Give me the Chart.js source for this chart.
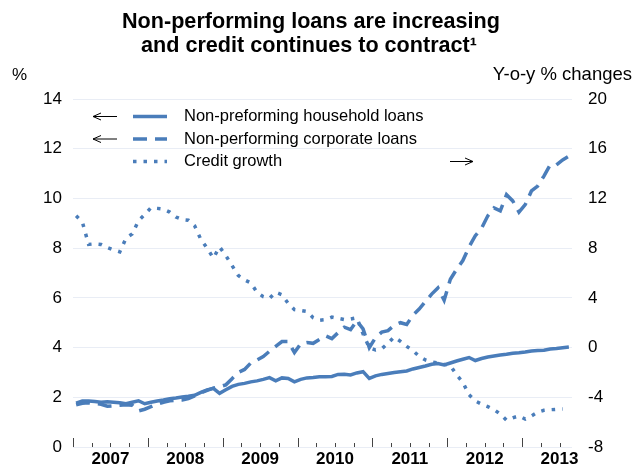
<!DOCTYPE html>
<html>
<head>
<meta charset="utf-8">
<script src="https://cdn.jsdelivr.net/npm/chart.js@4.4.1/dist/chart.umd.min.js"></script>
<style>
  html, body { margin: 0; padding: 0; background: #ffffff; }
  canvas { display: block; }
</style>
</head>
<body>
<canvas id="chart" width="640" height="469"></canvas>
<script>
// Monthly observations, January 2007 to August 2013
const firstYear = 2007;
const years = ['2007', '2008', '2009', '2010', '2011', '2012', '2013'];

// Non-performing household loans, % of loans (left axis)
const household = [
  1.76, 1.85, 1.85, 1.83, 1.80, 1.82, 1.80, 1.78, 1.74, 1.80,
  1.86, 1.74, 1.80, 1.85, 1.89, 1.94, 1.97, 2.01, 2.04, 2.08,
  2.20, 2.30, 2.36, 2.16, 2.30, 2.44, 2.52, 2.56, 2.62, 2.66,
  2.72, 2.79, 2.66, 2.78, 2.76, 2.62, 2.72, 2.78, 2.80, 2.83,
  2.83, 2.84, 2.92, 2.93, 2.90, 2.98, 3.03, 2.76, 2.86, 2.92,
  2.96, 3.00, 3.03, 3.06, 3.14, 3.20, 3.26, 3.33, 3.36, 3.30,
  3.38, 3.46, 3.53, 3.60, 3.48, 3.56, 3.62, 3.66, 3.70, 3.73,
  3.77, 3.79, 3.82, 3.86, 3.88, 3.89, 3.94, 3.96, 3.99, 4.02
];

// Non-performing corporate loans, % of loans (left axis)
const corporate = [
  1.70, 1.76, 1.78, 1.75, 1.72, 1.64, 1.66, 1.68, 1.70, 1.68,
  1.45, 1.52, 1.62, 1.72, 1.80, 1.86, 1.88, 1.89, 1.95, 2.06,
  2.18, 2.28, 2.37, 2.42, 2.50, 2.75, 3.00, 3.12, 3.38, 3.50,
  3.64, 3.85, 4.05, 4.24, 4.24, 3.80, 4.15, 4.20, 4.17, 4.32,
  4.47, 4.36, 4.60, 4.82, 4.72, 5.08, 4.75, 4.00, 4.40, 4.62,
  4.68, 4.90, 5.00, 4.93, 5.30, 5.55, 5.85, 6.15, 6.40, 5.90,
  6.75, 7.15, 7.50, 8.05, 8.50, 8.80, 9.30, 9.62, 9.50, 10.15,
  9.90, 9.45, 9.75, 10.30, 10.50, 10.90, 11.35, 11.35, 11.55, 11.70
];

// Credit growth, year-on-year % change (right axis), January 2007 to July 2013
const creditGrowth = [
  10.6, 10.1, 8.3, 8.35, 8.3, 8.05, 7.85, 7.7, 8.8, 9.15,
  10.2, 10.7, 11.25, 11.2, 11.14, 10.9, 10.5, 10.3, 10.25, 9.8,
  8.7, 8.0, 7.2, 8.1, 7.4, 6.6, 5.8, 5.45, 5.2, 4.45,
  4.1, 3.95, 4.45, 4.25, 3.55, 3.05, 2.98, 2.9, 2.4, 2.2,
  2.25, 2.45, 2.35, 2.25, 2.3, 2.4, 1.1, 0.0, -0.2, -0.1,
  0.35, 0.85, 0.5, 0.1, -0.25, -0.7, -1.0, -1.15, -1.25, -1.35,
  -1.45, -2.2, -2.8, -3.8, -4.3, -4.55, -4.75, -5.0, -5.35, -5.85,
  -5.65, -5.5, -5.75, -5.5, -5.2, -5.05, -5.0, -4.97, -4.94
];

const leftAxis = { min: 0, max: 14, step: 2 };
const rightAxis = { min: -8, max: 20, step: 4 };
const monthsOnAxis = 80;

const blue = '#4a7dba';
const gridColour = '#e9edf5';
const fontFamily = '"Liberation Sans", Arial, sans-serif';

// Each monthly value sits in the middle of its month on a continuous year axis
const toPoints = values => values.map((v, i) => ({ x: firstYear + (i + 0.5) / 12, y: v }));

const legendRows = [
  { text: 'Non-preforming household loans', dash: [], arrow: 'left' },
  { text: 'Non-performing corporate loans', dash: [14, 8], arrow: 'left' },
  { text: 'Credit growth', dash: [3.5, 7], arrow: null }
];

function drawArrow(ctx, x1, x2, y, pointsLeft) {
  const tip = pointsLeft ? x1 : x2;
  const back = pointsLeft ? 8 : -8;
  ctx.beginPath();
  ctx.moveTo(x1, y);
  ctx.lineTo(x2, y);
  ctx.moveTo(tip + back, y - 3.5);
  ctx.lineTo(tip, y);
  ctx.lineTo(tip + back, y + 3.5);
  ctx.stroke();
}

// Keep the vertical axes' label overhang from shrinking the plot height
function fixVerticalAxis(width) {
  return scale => {
    scale.width = width;
    scale.paddingTop = 10;
    scale.paddingBottom = 10;
  };
}

// Titles, unit labels, legend with axis arrows, and inward quarter ticks
const decorations = {
  id: 'decorations',
  afterDraw(chart) {
    const ctx = chart.ctx;
    const area = chart.chartArea;
    const xScale = chart.scales.x;
    ctx.save();

    // quarter tick marks pointing up into the plot, longer at each new year
    ctx.strokeStyle = '#444444';
    ctx.lineWidth = 1;
    xScale.ticks.forEach(t => {
      const px = Math.round(xScale.getPixelForValue(t.value)) + 0.5;
      const isYear = Math.abs((t.value - firstYear) % 1) < 1e-6;
      ctx.beginPath();
      ctx.moveTo(px, area.bottom);
      ctx.lineTo(px, area.bottom - (isYear ? 9 : 4));
      ctx.stroke();
    });

    // title
    ctx.fillStyle = '#000000';
    ctx.textAlign = 'center';
    ctx.textBaseline = 'alphabetic';
    ctx.font = 'bold 21.6px ' + fontFamily;
    ctx.fillText('Non-performing loans are increasing', 311, 28);
    ctx.fillText('and credit continues to contract\u00b9', 309, 52);

    // axis units
    ctx.textBaseline = 'middle';
    ctx.textAlign = 'left';
    ctx.font = '17px ' + fontFamily;
    ctx.fillText('%', 12, 75);
    ctx.textAlign = 'right';
    ctx.font = '18.5px ' + fontFamily;
    ctx.fillText('Y-o-y % changes', 632, 75);

    // legend
    const rowY = [116.5, 139, 161.5];
    ctx.font = '16.5px ' + fontFamily;
    ctx.textAlign = 'left';
    legendRows.forEach((row, i) => {
      const y = rowY[i];
      if (row.arrow === 'left') {
        ctx.strokeStyle = '#000000';
        ctx.lineWidth = 1;
        ctx.setLineDash([]);
        drawArrow(ctx, 93, 117, y, true);
      }
      ctx.strokeStyle = blue;
      ctx.lineWidth = 3.5;
      ctx.lineCap = 'butt';
      ctx.setLineDash(row.dash);
      ctx.beginPath();
      ctx.moveTo(133, y);
      ctx.lineTo(167, y);
      ctx.stroke();
      ctx.setLineDash([]);
      ctx.fillStyle = '#000000';
      ctx.fillText(row.text, 184, y);
    });
    // credit growth is read on the right-hand axis
    ctx.strokeStyle = '#000000';
    ctx.lineWidth = 1;
    drawArrow(ctx, 450, 473, 161.5, false);

    ctx.restore();
  }
};

const lineStyle = {
  borderColor: blue,
  borderWidth: 3.5,
  pointRadius: 0,
  pointHoverRadius: 0,
  tension: 0,
  fill: false,
  borderCapStyle: 'butt',
  borderJoinStyle: 'miter'
};

new Chart(document.getElementById('chart'), {
  type: 'line',
  data: {
    datasets: [
      Object.assign({ label: 'Non-preforming household loans', data: toPoints(household), yAxisID: 'y' }, lineStyle),
      Object.assign({ label: 'Non-performing corporate loans', data: toPoints(corporate), yAxisID: 'y', borderDash: [14, 8] }, lineStyle),
      Object.assign({ label: 'Credit growth', data: toPoints(creditGrowth), yAxisID: 'y2', borderDash: [3.5, 7] }, lineStyle)
    ]
  },
  options: {
    responsive: false,
    animation: false,
    events: [],
    layout: { padding: { top: 99, left: 0, right: 0, bottom: 0 } },
    plugins: {
      legend: { display: false },
      title: { display: false },
      tooltip: { enabled: false }
    },
    scales: {
      x: {
        type: 'linear',
        position: 'bottom',
        min: firstYear,
        max: firstYear + monthsOnAxis / 12,
        afterBuildTicks(scale) {
          const ticks = [];
          for (let q = 0; firstYear + q / 4 <= scale.max + 1e-9; q++) {
            ticks.push({ value: firstYear + q / 4 });
          }
          scale.ticks = ticks;
        },
        afterFit(scale) { scale.height = 22; },
        grid: { display: false, drawTicks: false },
        border: { display: false },
        ticks: {
          autoSkip: false,
          maxRotation: 0,
          padding: 2,
          color: '#000000',
          font: { family: fontFamily, size: 17, weight: 'bold' },
          callback(value) {
            const offset = value - firstYear;
            return Math.abs(offset % 1 - 0.5) < 1e-6 ? years[Math.floor(offset)] : '';
          }
        }
      },
      y: {
        position: 'left',
        min: leftAxis.min,
        max: leftAxis.max,
        afterFit: fixVerticalAxis(73),
        grid: { color: gridColour, lineWidth: 1, drawTicks: false },
        border: { display: false },
        ticks: {
          stepSize: leftAxis.step,
          padding: 11,
          color: '#000000',
          font: { family: fontFamily, size: 17 }
        }
      },
      y2: {
        position: 'right',
        min: rightAxis.min,
        max: rightAxis.max,
        afterFit: fixVerticalAxis(68),
        grid: { drawOnChartArea: false, drawTicks: false },
        border: { display: false },
        ticks: {
          stepSize: rightAxis.step,
          padding: 16,
          color: '#000000',
          font: { family: fontFamily, size: 17 }
        }
      }
    }
  },
  plugins: [decorations]
});
</script>
</body>
</html>
